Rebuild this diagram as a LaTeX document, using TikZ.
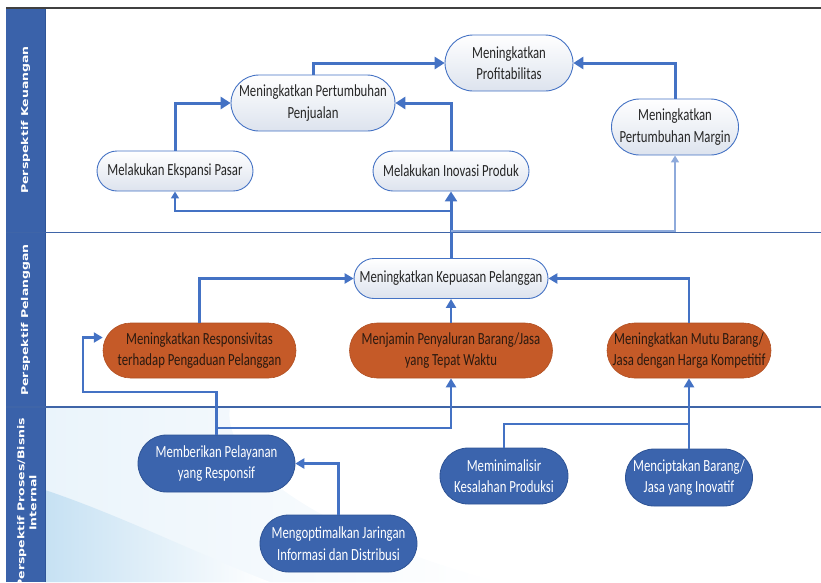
\documentclass[tikz,border=0pt]{standalone}
\usepackage{fontspec}
\setmainfont{Carlito}
\newfontfamily\lanefont{DejaVu Sans}
\usetikzlibrary{arrows.meta}

\definecolor{lineblue}{HTML}{4472C4}
\definecolor{paleblue}{HTML}{8EAADB}
\definecolor{laneblue}{HTML}{3A62AA}
\definecolor{laneedge}{HTML}{2F5597}
\definecolor{divblue}{HTML}{3F65A8}
\definecolor{custorange}{HTML}{C55A28}
\definecolor{procblue}{HTML}{3B64AD}
\definecolor{procedge}{HTML}{2E5395}
\definecolor{goalbot}{HTML}{DDE3EE}
\definecolor{textdark}{HTML}{262626}
\definecolor{custtext}{HTML}{2B1A10}
\definecolor{wmlight}{HTML}{EAF4FB}
\definecolor{wmdeep}{HTML}{C6E1F3}

\begin{document}
\begin{tikzpicture}[x=1pt,y=-1pt,
  boxsize/.style 2 args={minimum width=#1*1.3333pt, minimum height=#2*1pt,
    rounded corners=#2*0.5pt},
  box/.style={xscale=0.75, align=center, inner sep=0pt,
    font=\fontsize{17}{21.5}\selectfont},
  goal/.style={box, draw=lineblue, line width=0.9pt, top color=white,
    bottom color=goalbot, text=textdark},
  cust/.style={box, fill=custorange, draw=custorange!90!black, line width=0.6pt,
    text=custtext},
  proc/.style={box, fill=procblue, draw=procedge, line width=0.8pt, text=white},
  lane/.style={xscale=0.75, rotate=90, text=white, align=center, inner sep=0pt,
    font=\lanefont\bfseries\fontsize{12.5}{16}\selectfont},
  thickarr/.style={draw=lineblue, line width=3pt, -{Triangle[length=10pt,width=12pt]}},
  thinarr/.style={draw=lineblue, line width=1.4pt, -{Triangle[length=7pt,width=8pt]}},
  midarr/.style={draw=lineblue, line width=2.2pt, -{Triangle[length=9pt,width=10pt]}},
  midline/.style={draw=lineblue, line width=2.2pt},
]
\useasboundingbox (0,0) rectangle (821,582);
\clip (0,0) rectangle (821,582);

% soft watermark in the lower lane
\begin{scope}
  \clip (45,407.5) rectangle (821,582);
  \shade[left color=wmlight, right color=white]
    (45,407) -- (230,407) .. controls (220,470) and (340,540) .. (500,582)
    -- (45,582) -- cycle;
  \shade[left color=wmdeep, right color=white]
    (45,490) .. controls (120,515) and (200,555) .. (270,582)
    -- (45,582) -- cycle;
\end{scope}

% lane header column and frame
\fill[laneblue] (6,9) rectangle (45,582);
\draw[laneedge, line width=0.8pt] (45,9) -- (45,582);
\draw[black!75, line width=1.5pt] (6,8) -- (821,8);
\draw[divblue, line width=1.1pt] (6,232.5) -- (821,232.5);
\draw[divblue, line width=1.1pt] (6,407) -- (821,407);

% lane titles
\node[lane] (l1) at (25.5,120) {Perspektif Keuangan};
\node[lane] (l2) at (25.5,320) {Perspektif Pelanggan};
\node[lane] (l3) at (27,503) {Perspektif Proses/Bisnis\\Internal};

% financial perspective
\node[goal, boxsize={128}{56}] (prof) at (509,63) {Meningkatkan\\Profitabilitas};
\node[goal, boxsize={164}{56}] (penj) at (313,103) {Meningkatkan Pertumbuhan\\Penjualan};
\node[goal, boxsize={156}{40}] (eksp) at (175,171) {Melakukan Ekspansi Pasar};
\node[goal, boxsize={156}{40}] (inov) at (451,171) {Melakukan Inovasi Produk};
\node[goal, boxsize={127}{56}] (marg) at (675,127) {Meningkatkan\\Pertumbuhan Margin};

% customer perspective
\node[goal, boxsize={194}{40}] (puas) at (451,278.5) {Meningkatkan Kepuasan Pelanggan};
\node[cust, boxsize={193}{55}] (resp) at (199.5,350.5) {Meningkatkan Responsivitas\\terhadap Pengaduan Pelanggan};
\node[cust, boxsize={203}{55}] (salur) at (451,350.5) {Menjamin Penyaluran Barang/Jasa\\yang Tepat Waktu};
\node[cust, boxsize={164}{55}] (mutu) at (689,350.5) {Meningkatkan Mutu Barang/\\Jasa dengan Harga Kompetitif};

% internal process perspective
\node[proc, boxsize={157}{57}] (layan) at (216.5,463.5) {Memberikan Pelayanan\\yang Responsif};
\node[proc, boxsize={157}{57}] (jar) at (338.5,543.5) {Mengoptimalkan Jaringan\\Informasi dan Distribusi};
\node[proc, boxsize={128}{56}] (mini) at (504,476) {Meminimalisir\\Kesalahan Produksi};
\node[proc, boxsize={127}{57}] (cipta) at (689,477.5) {Menciptakan Barang/\\Jasa yang Inovatif};

% junction points
\coordinate (jA) at (451,211);
\coordinate (jB) at (451,231);
\coordinate (kL) at (83,392);
\coordinate (kM) at (451,428);
\coordinate (kN) at (689,424);

% links inside the financial lane
\draw[thickarr] (penj.north) |- (prof.west);
\draw[thickarr] (marg.north) |- (prof.east);
\draw[thickarr] (eksp.north) |- (penj.west);
\draw[thickarr] (inov.north) |- (penj.east);
\draw[thickarr] (puas.north) -- (inov.south);
\draw[thinarr] (jA) -| (eksp.south);
\draw[thinarr, draw=paleblue] (jB) -| (marg.south);

% links inside the customer lane
\draw[midarr] (resp.north) |- (puas.west);
\draw[midarr] (salur.north) -- (puas.south);
\draw[midarr] (mutu.north) |- (puas.east);

% links from the process lane
\draw[midarr] (layan.north) |- (kL) |- ([yshift=13pt]resp.west);
\draw[midarr] (layan.north) |- (kM) -- (salur.south);
\draw[midarr] (jar.north) |- (layan.east);
\draw[midarr] (cipta.north) -- (mutu.south);
\draw[midline] (mini.north) |- (kN);
\end{tikzpicture}
\end{document}
